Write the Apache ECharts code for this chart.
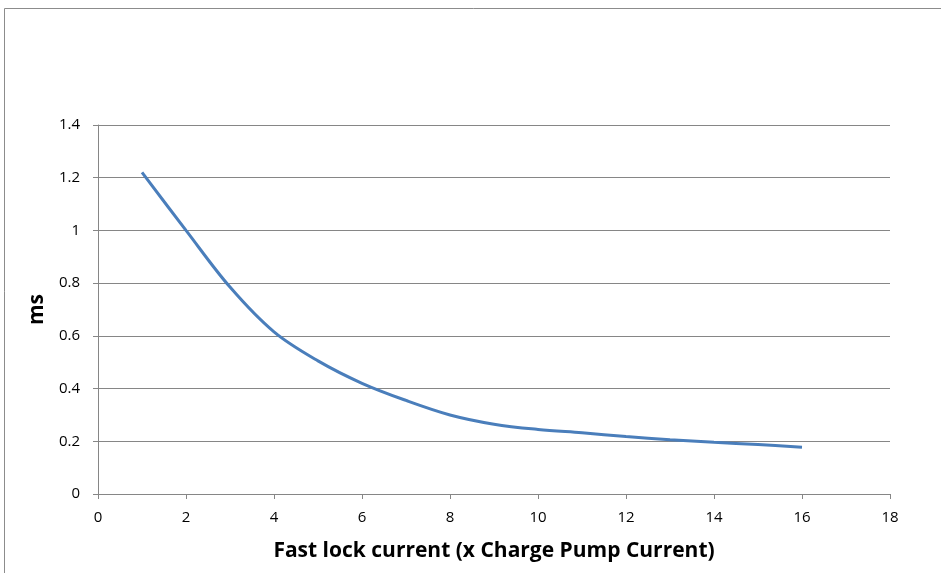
<!DOCTYPE html>
<html><head><meta charset="utf-8">
<script src="https://cdn.jsdelivr.net/npm/echarts@6/dist/echarts.min.js"></script>
<style>html,body{margin:0;padding:0;background:#fff}#c{width:941px;height:573px}</style>
</head><body><div id="c"></div>
<script>
const xValues = [1,2,3,4,5,6,7,8,9,10,11,12,13,14,15,16];
const msValues = [1.22,1.0,0.785,0.615,0.505,0.42,0.355,0.30,0.265,0.245,0.232,0.218,0.206,0.196,0.188,0.177];
const xAxisName = 'Fast lock current (x Charge Pump Current)';
const yAxisName = 'ms';

const chart = echarts.init(document.getElementById('c'));
const font = '"Open Sans", Calibri, sans-serif';
chart.setOption({
  animation: false,
  graphic: [{type:'rect', shape:{x:4.5,y:8.5,width:1000,height:700}, style:{fill:'none', stroke:'#8c8c8c', lineWidth:1}}],
  grid: {left:98, right:51, top:125, bottom:79},
  xAxis: {type:'value', min:0, max:18, interval:2,
    name:xAxisName, nameLocation:'middle', nameGap:47,
    nameTextStyle:{fontFamily:font, fontWeight:'bold', fontSize:21, color:'#000'},
    axisLine:{lineStyle:{color:'#868686'}},
    axisTick:{show:true, length:5, lineStyle:{color:'#868686'}},
    axisLabel:{fontFamily:font, fontSize:15, color:'#000', margin:16},
    splitLine:{show:false}},
  yAxis: {type:'value', min:0, max:1.4, interval:0.2,
    name:yAxisName, nameLocation:'middle', nameGap:48, nameRotate:90,
    nameTextStyle:{fontFamily:font, fontWeight:'bold', fontSize:21, color:'#000'},
    axisLine:{show:true, lineStyle:{color:'#868686'}},
    axisTick:{show:true, length:5, lineStyle:{color:'#868686'}},
    axisLabel:{fontFamily:font, fontSize:15, color:'#000', margin:18, formatter:v=>String(+v.toFixed(1))},
    splitLine:{lineStyle:{color:'#868686'}}},
  series: [{type:'line', data:xValues.map((x,i)=>[x,msValues[i]]), smooth:0.35, showSymbol:false,
    lineStyle:{color:'#4a7ebb', width:3}}]
});
</script></body></html>
